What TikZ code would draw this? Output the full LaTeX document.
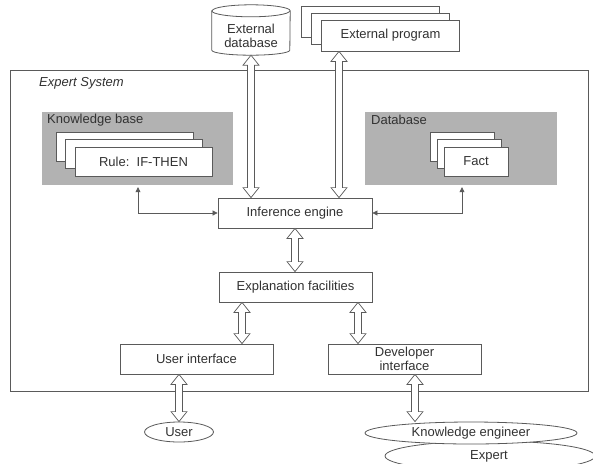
\documentclass[tikz,border=0pt]{standalone}
\usepackage{fontspec}
\setmainfont{Liberation Sans}
\usetikzlibrary{calc,arrows.meta,shapes.geometric}
\definecolor{ln}{RGB}{90,90,90}
\definecolor{tx}{RGB}{50,50,50}
\definecolor{kbg}{RGB}{178,178,178}
\tikzset{
 base/.style={font=\fontsize{13}{14.5}\selectfont, text=tx},
 box/.style={base, draw=ln, fill=white, line width=0.8pt, inner sep=0pt, align=center},
 greybox/.style={fill=kbg, draw=none, inner sep=0pt},
 oval/.style={base, ellipse, draw=ln, fill=white, line width=0.8pt, inner sep=0pt},
 dblarrow/.style={draw=ln, fill=white, line width=0.7pt, line join=miter},
 smallarr/.style={draw=ln, line width=0.7pt, {Triangle[length=5pt,width=5pt]}-{Triangle[length=5pt,width=5pt]}},
 lbl/.style={base, anchor=west, inner sep=0pt},
}
\newcommand\dblarr[2]{%
 \path[dblarrow] let \p1=(#1), \p2=(#2) in
 (\x1,\y1) -- (\x1+8pt,\y1-10pt) -- (\x1+3.5pt,\y1-10pt) -- (\x1+3.5pt,\y2+10pt)
 -- (\x1+8pt,\y2+10pt) -- (\x1,\y2) -- (\x1-8pt,\y2+10pt) -- (\x1-3.5pt,\y2+10pt)
 -- (\x1-3.5pt,\y1-10pt) -- (\x1-8pt,\y1-10pt) -- cycle;}
\begin{document}
\begin{tikzpicture}[x=1pt,y=-1pt]
\useasboundingbox (0,0) rectangle (593,463);
\clip (0,0) rectangle (593,463);
\fill[white] (0,0) rectangle (593,463);

% outer frame
\node (es) [draw=ln, line width=0.8pt, minimum width=578pt, minimum height=321pt, inner sep=0pt] at (299,230.5) {};
\node (estitle) [lbl, font=\fontsize{13}{14.5}\selectfont\itshape] at (39,83) {Expert System};

% external database (cylinder)
\node (extdb) [base, minimum width=78pt, minimum height=50pt, inner sep=0pt, align=center] at (251,30) {};
\path[draw=ln, fill=white, line width=0.8pt]
  ($(extdb.north west)+(0,6)$) -- ($(extdb.south west)+(0,-5)$)
  arc[start angle=180, end angle=360, x radius=39pt, y radius=5pt]
  -- ($(extdb.north east)+(0,6)$)
  arc[start angle=0, end angle=180, x radius=39pt, y radius=6pt] -- cycle;
\draw[ln, line width=0.8pt] ($(extdb.north west)+(0,6)$)
  arc[start angle=180, end angle=360, x radius=39pt, y radius=6pt];
\node (extdbtext) [base, align=center, inner sep=0pt] at (251,36) {External\\database};

% external program (stacked)
\node (prog3) [box, minimum width=138pt, minimum height=31pt] at (370.5,21.5) {};
\node (prog2) [box, minimum width=138pt, minimum height=31pt] at (380.5,28.5) {};
\node (prog)  [box, minimum width=138pt, minimum height=31pt] at (390.5,35.5) {External program};

% knowledge base
\node (kb) [greybox, minimum width=191pt, minimum height=73pt] at (137.5,148.5) {};
\node (kblbl) [lbl] at (47,120) {Knowledge base};
\node (rule3) [box, minimum width=137pt, minimum height=29pt] at (124.5,146.5) {};
\node (rule2) [box, minimum width=137pt, minimum height=29pt] at (134,154) {};
\node (rule)  [box, minimum width=137pt, minimum height=29pt] at (143.5,161.5) {Rule:\ \ IF-THEN};

% database
\node (db) [greybox, minimum width=192pt, minimum height=73pt] at (461,148.5) {};
\node (dblbl) [lbl] at (371,120) {Database};
\node (fact3) [box, minimum width=64pt, minimum height=29pt] at (462,146.5) {};
\node (fact2) [box, minimum width=64pt, minimum height=29pt] at (469,154) {};
\node (fact)  [box, minimum width=64pt, minimum height=29pt] at (476,161.5) {Fact};

% main boxes
\node (ie)   [box, minimum width=154pt, minimum height=30pt] at (295,213) {Inference engine};
\node (expl) [box, minimum width=153pt, minimum height=30pt] at (295.5,287) {Explanation facilities};
\node (ui)   [box, minimum width=153pt, minimum height=30pt] at (196.5,359) {User interface};
\node (di)   [box, minimum width=153pt, minimum height=30pt, font=\fontsize{13}{13.5}\selectfont] at (404.5,359) {Developer\\interface};

% people
\node (user) [oval, minimum width=69pt, minimum height=20pt] at (179,432) {User};
\node (expert) [oval, minimum width=210pt, minimum height=30pt] at (490,456) {};
\node (experttext) [base, inner sep=0pt] at (489,456) {Expert};
\node (ke) [oval, minimum width=212pt, minimum height=22pt] at (471,433) {Knowledge engineer};

% helper coordinates
\coordinate (kbx) at (138,0);
\coordinate (dbx) at (462,0);
\coordinate (epx) at (339,0);
\coordinate (lx) at (242,0);
\coordinate (rx) at (358,0);
\coordinate (ux) at (179,0);
\coordinate (kx) at (415,0);

% thin connectors
\draw[smallarr, shorten <=2pt] (kbx |- kb.south) |- (ie.west);
\draw[smallarr, shorten >=2pt] (ie.east) -| (dbx |- db.south);

% double arrows
\dblarr{extdb.south}{extdb.south |- ie.north}
\dblarr{epx |- prog.south}{epx |- ie.north}
\dblarr{ie.south}{ie.south |- expl.north}
\dblarr{lx |- expl.south}{lx |- ui.north}
\dblarr{rx |- expl.south}{rx |- di.north}
\dblarr{ux |- ui.south}{user.north}
\dblarr{kx |- di.south}{kx |- ke.north}
\end{tikzpicture}
\end{document}
